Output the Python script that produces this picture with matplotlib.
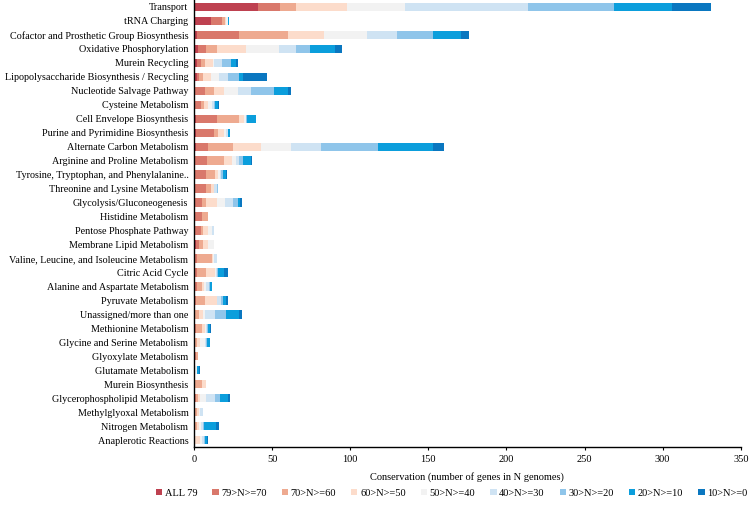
import matplotlib
matplotlib.use("Agg")
import matplotlib.pyplot as plt
import numpy as np

categories = [
    "Transport", "tRNA Charging", "Cofactor and Prosthetic Group Biosynthesis",
    "Oxidative Phosphorylation", "Murein Recycling",
    "Lipopolysaccharide Biosynthesis / Recycling", "Nucleotide Salvage Pathway",
    "Cysteine Metabolism", "Cell Envelope Biosynthesis",
    "Purine and Pyrimidine Biosynthesis", "Alternate Carbon Metabolism",
    "Arginine and Proline Metabolism", "Tyrosine, Tryptophan, and Phenylalanine..",
    "Threonine and Lysine Metabolism", "Glycolysis/Gluconeogenesis",
    "Histidine Metabolism", "Pentose Phosphate Pathway", "Membrane Lipid Metabolism",
    "Valine, Leucine, and Isoleucine Metabolism", "Citric Acid Cycle",
    "Alanine and Aspartate Metabolism", "Pyruvate Metabolism",
    "Unassigned/more than one", "Methionine Metabolism",
    "Glycine and Serine Metabolism", "Glyoxylate Metabolism", "Glutamate Metabolism",
    "Murein Biosynthesis", "Glycerophospholipid Metabolism",
    "Methylglyoxal Metabolism", "Nitrogen Metabolism", "Anaplerotic Reactions",
]

series_names = ["ALL 79", "79>N>=70", "70>N>=60", "60>N>=50", "50>N>=40",
                "40>N>=30", "30>N>=20", "20>N>=10", "10>N>=0"]

# values per category (columns follow series_names)
all79   = [41, 11, 2, 2.5, 2, 2, 0, 0.5, 1, 1.5, 1, 0.5, 0.5, 0.5, 0.5, 0.5,
           0.5, 1, 0.5, 0.5, 0.5, 0, 0, 0, 0, 0, 0, 0, 0, 0, 0, 0]
n79_70  = [14, 7, 27, 5, 2.3, 1.5, 7.3, 4, 14, 11, 8, 8, 7.5, 7, 4.5, 4.5,
           4, 2, 1.5, 1.5, 1.5, 1, 0.5, 1.5, 0.5, 1, 0, 0.5, 1, 0.5, 0.5, 0]
n70_60  = [10, 2, 31, 7, 2.7, 2.5, 5.5, 2, 13.5, 3, 16, 11, 5.5, 3.5, 2.5, 4,
           1.5, 3, 9.5, 5.5, 3, 6, 2.5, 3.5, 1.5, 1.5, 0, 4.5, 1.5, 1.5, 1.5, 0.5]
n60_50  = [33, 0.5, 23, 19, 5, 5, 6.6, 2.5, 3.5, 3.5, 18, 5, 2, 1.5, 7, 0,
           3, 3, 0.5, 6, 1.5, 7.5, 2.5, 2, 2, 0, 0.5, 2.5, 1.5, 1.5, 1, 3.5]
n50_40  = [37, 1, 28, 21, 0.5, 5, 9, 2.5, 1, 1.5, 19, 2.5, 1, 0.5, 5.5, 0,
           2.5, 4, 1, 0.5, 1.5, 0.5, 1.5, 0.5, 3, 0, 1.5, 0, 3.5, 0.5, 1.5, 1]
n40_30  = [79, 0, 19, 11, 5.5, 6, 8, 1.3, 0.5, 1, 19, 2, 1, 1.5, 5, 0,
           1, 0, 1.5, 1, 1.5, 2, 6.5, 1, 1, 0, 0, 0, 6, 1.5, 1.5, 1.5]
n30_20  = [55, 0, 23, 8.5, 6, 7, 15, 0.5, 0.5, 0.5, 37, 2.5, 1, 1, 3, 0,
           0.5, 0, 0, 0.5, 1, 1.5, 7, 0.5, 0.5, 0, 0, 0, 3, 0, 0.5, 0.5]
n20_10  = [37, 0.8, 18, 16, 3, 2.5, 9, 2, 5.5, 1, 35, 5, 2, 0, 1.5, 0,
           0, 0, 0, 4, 1, 2, 8.5, 1.5, 2, 0, 1.5, 0, 5, 0, 7.5, 1.5]
n10_0   = [25, 0, 5, 5, 1, 15, 2, 0.5, 0.5, 0, 7, 0.5, 0.5, 0, 1, 0,
           0, 0, 0, 2.5, 0.3, 1.5, 1.5, 0.5, 0, 0, 0.5, 0, 1.5, 0, 2, 0.5]

series = [all79, n79_70, n70_60, n60_50, n50_40, n40_30, n30_20, n20_10, n10_0]
colors = ["#be4150", "#d9786b", "#eeaa90", "#fcdccb", "#f2f2f2",
          "#cfe3f3", "#8fc5ea", "#0b9edc", "#0a77c0"]

plt.rcParams['font.family'] = ['Liberation Serif', 'DejaVu Serif']

fig = plt.figure(figsize=(7.49, 5.11), dpi=100)
ax = fig.add_axes([0.259, 0.125, 0.730, 0.875])

y = np.arange(len(categories))
left = np.zeros(len(categories))
for name, vals, col in zip(series_names, series, colors):
    vals = np.array(vals, dtype=float)
    ax.barh(y, vals, left=left, height=0.6, color=col, label=name, edgecolor='none')
    left += vals

ax.set_ylim(len(categories) - 0.5, -0.5)
ax.set_xlim(0, 350)
ax.set_xticks(np.arange(0, 351, 50))
ax.set_yticks(y)
ax.set_yticklabels(categories, fontsize=7.3)
ax.tick_params(axis='y', length=0, pad=4)
ax.tick_params(axis='x', labelsize=7.5, length=2.5, width=0.8, direction='out', pad=3)
for s in ['top', 'right']:
    ax.spines[s].set_visible(False)
ax.spines['left'].set_linewidth(1.0)
ax.spines['bottom'].set_linewidth(1.0)
ax.set_xlabel("Conservation (number of genes in N genomes)", fontsize=7.5, labelpad=6)

fig.legend(loc='center', bbox_to_anchor=(0.603, 0.035), ncol=9, frameon=False,
           fontsize=7.5, handlelength=0.6, handleheight=0.6, handletextpad=0.25,
           columnspacing=1.45)

fig.savefig("out.png", dpi=100)
